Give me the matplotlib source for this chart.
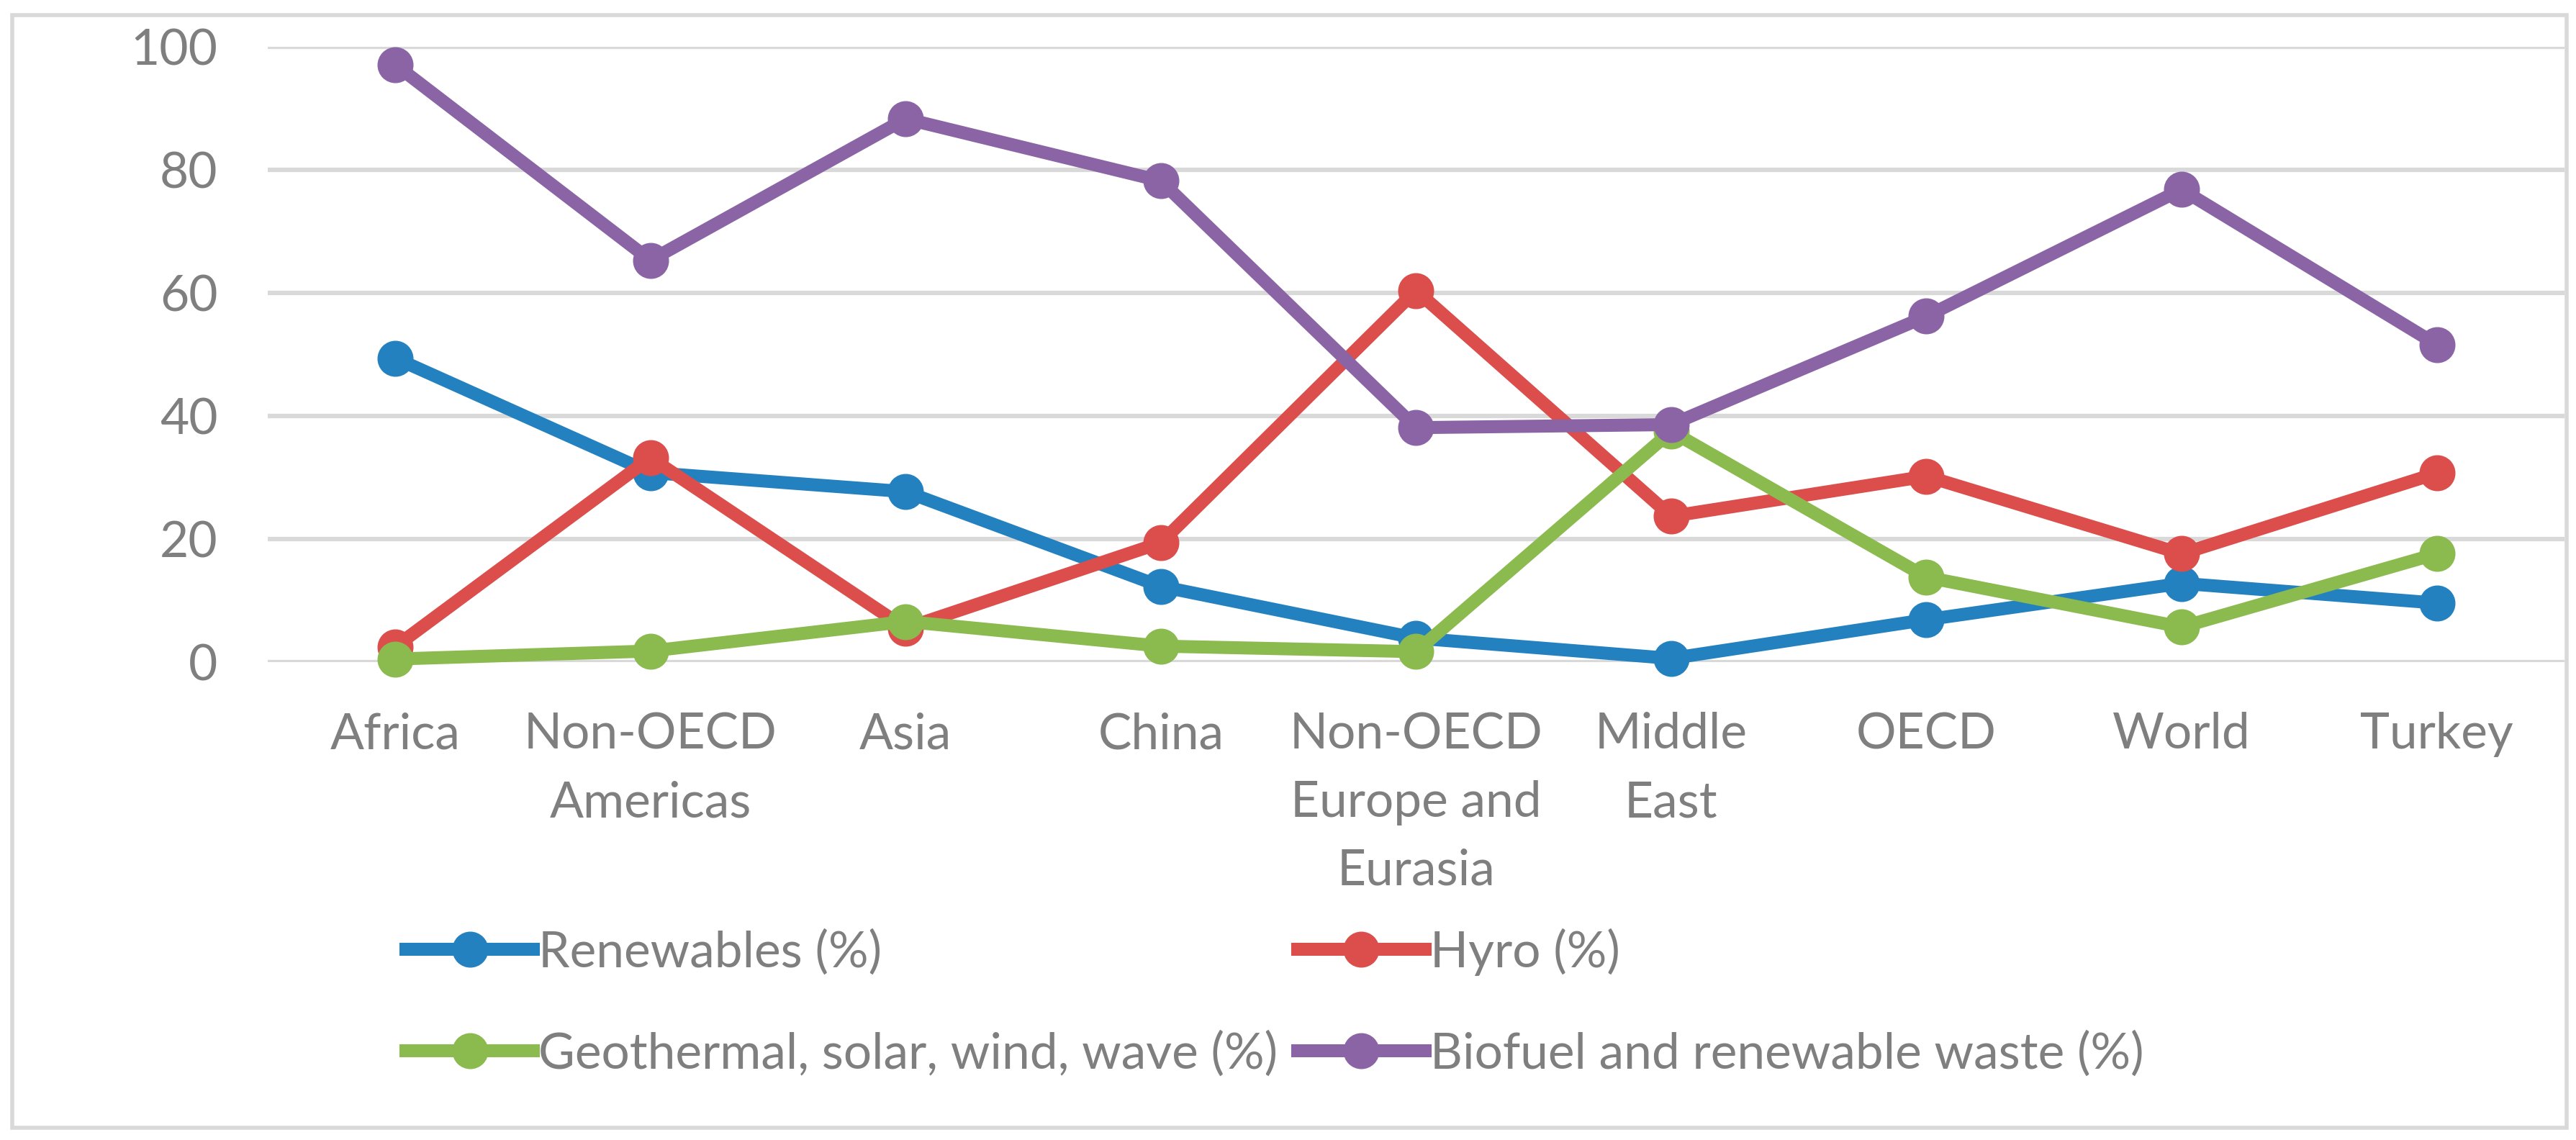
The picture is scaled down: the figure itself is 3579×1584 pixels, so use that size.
import matplotlib
matplotlib.use("Agg")
import matplotlib.pyplot as plt
from matplotlib.patches import Rectangle

# categories and series (percent)
regions = ["Africa", "Non-OECD\nAmericas", "Asia", "China",
           "Non-OECD\nEurope and\nEurasia", "Middle\nEast", "OECD",
           "World", "Turkey"]
renewables = [49.4, 30.8, 27.7, 12.3, 3.9, 0.6, 6.9, 12.8, 9.6]
hydro = [2.5, 33.2, 5.5, 19.4, 60.4, 23.7, 30.2, 17.6, 30.7]
geo_solar = [0.5, 1.8, 6.6, 2.6, 1.7, 37.5, 13.8, 5.7, 17.6]
biofuel = [97.1, 65.3, 88.3, 78.2, 38.1, 38.6, 56.2, 76.8, 51.6]

names = ["Renewables (%)", "Hyro (%)",
         "Geothermal, solar, wind, wave (%)",
         "Biofuel and renewable waste (%)"]
colors = ["#2481C0", "#DB4E4B", "#8BBA4E", "#8B64A6"]

plt.rcParams['font.family'] = ['Lato', 'DejaVu Sans']
txt_col = "#7f7f7f"
fs = 50

fig = plt.figure(figsize=(35.79, 15.84), dpi=100)
ax = fig.add_axes([0.1039, 0.4192, 0.8916, 0.5398])

x = list(range(len(regions)))
handles = []
for vals, c, n in zip([renewables, hydro, geo_solar, biofuel], colors, names):
    h, = ax.plot(x, vals, color=c, lw=13, marker="o", ms=35,
                 label=n, clip_on=False, zorder=3)
    handles.append(h)

ax.set_xlim(-0.5, len(regions) - 0.5)
ax.set_ylim(0, 100)
ax.set_yticks([0, 20, 40, 60, 80, 100])
ax.set_xticks(x)
ax.set_xticklabels(regions, linespacing=1.62)
ax.tick_params(axis="y", length=0, pad=50, labelsize=fs, labelcolor=txt_col)
ax.tick_params(axis="x", length=0, pad=50, labelsize=fs, labelcolor=txt_col)
ax.grid(axis="y", color="#d9d9d9", lw=4.5, zorder=0)
ax.set_axisbelow(True)
for s in ax.spines.values():
    s.set_visible(False)

# legend: rows Renewables/Hyro then Geothermal/Biofuel
order = [0, 2, 1, 3]
leg = fig.legend([handles[i] for i in order], [names[i] for i in order],
                 ncol=2, loc="center left",
                 bbox_to_anchor=(564 / 3579, 1 - 1393 / 1584),
                 frameon=False, fontsize=fs, handlelength=2.55,
                 handletextpad=0.1, columnspacing=0.4, labelspacing=1.1,
                 borderpad=0, borderaxespad=0)
for t in leg.get_texts():
    t.set_color(txt_col)

# chart border
fig.patches.append(Rectangle((0.00475, 0.0107), 0.9916, 0.976,
                             transform=fig.transFigure, fill=False,
                             edgecolor="#d9d9d9", lw=4))

fig.savefig("out.png", dpi=100, facecolor="white")
